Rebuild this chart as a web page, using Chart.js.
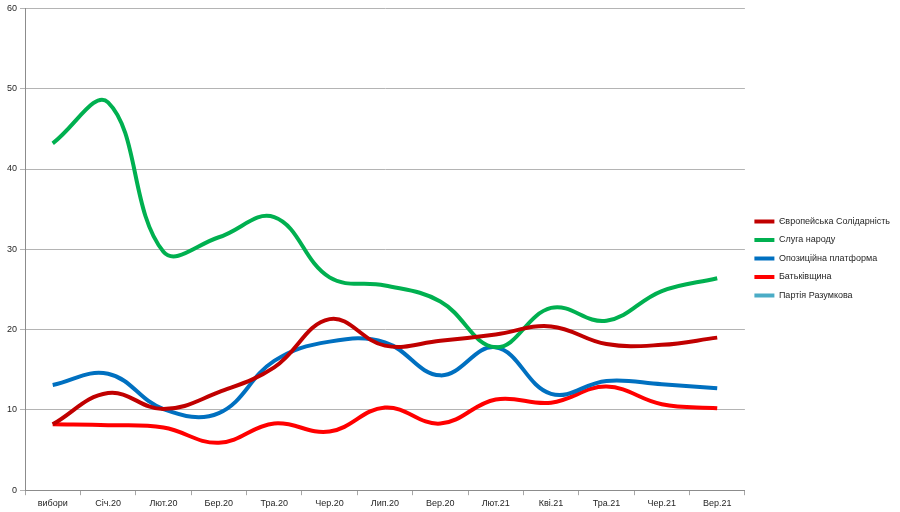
<!DOCTYPE html>
<html>
<head>
<meta charset="utf-8">
<script src="https://cdn.jsdelivr.net/npm/chart.js@4/dist/chart.umd.min.js"></script>
<style>
html,body{margin:0;padding:0;background:#fff;}
#wrap{width:900px;height:512px;position:relative;}
</style>
</head>
<body>
<div id="wrap"><canvas id="c" width="900" height="512"></canvas></div>
<script>
const categories = ["вибори","Січ.20","Лют.20","Бер.20","Тра.20","Чер.20","Лип.20","Вер.20","Лют.21","Кві.21","Тра.21","Чер.21","Вер.21"];
const yTicks = [0,10,20,30,40,50,60];
const seriesNames = ["Європейська Солідарність","Слуга народу","Опозиційна платформа","Батьківщина","Партія Разумкова"];
const es      = [8.2, 12.1, 10.1, 12.2, 15.3, 21.3, 18.0, 18.6, 19.4, 20.4, 18.2, 18.1, 19.0];
const sluha   = [43.2, 48.3, 29.7, 31.5, 34.0, 26.5, 25.5, 23.5, 17.8, 22.7, 21.1, 24.8, 26.4];
const opzzh   = [13.1, 14.5, 10.1, 9.6, 16.1, 18.5, 18.4, 14.3, 17.8, 12.0, 13.6, 13.2, 12.7];
const batk    = [8.2, 8.1, 7.8, 5.9, 8.3, 7.3, 10.3, 8.3, 11.3, 10.9, 12.9, 10.7, 10.2];
const razumkov = [null,null,null,null,null,null,null,null,null,null,null,null,null];

const colors = ["#c00000","#00b050","#0070c0","#ff0000","#4bacc6"];
const values = [es, sluha, opzzh, batk, razumkov];

const FONT = "'Liberation Sans', Arial, sans-serif";

new Chart(document.getElementById('c'), {
  type: 'line',
  data: {
    labels: categories,
    datasets: seriesNames.map((n,i)=>({
      label: n,
      data: values[i],
      borderColor: colors[i],
      backgroundColor: colors[i],
      borderWidth: 4,
      pointRadius: 0,
      pointHoverRadius: 0,
      tension: 0.4,
      fill: false,
      spanGaps: false
    }))
  },
  options: {
    responsive: false,
    animation: false,
    events: [],
    layout: { padding: { left: 4, top: 5, right: 0, bottom: 0 } },
    plugins: {
      tooltip: { enabled: false },
      legend: {
        position: 'right',
        align: 'center',
        labels: {
          font: { family: FONT, size: 9 },
          color: '#262626',
          boxWidth: 20,
          boxHeight: 4,
          padding: 9.5,
          generateLabels: (chart) => chart.data.datasets.map((d,i)=>({
            text: d.label,
            fillStyle: d.borderColor,
            strokeStyle: d.borderColor,
            lineWidth: 0,
            hidden: false,
            datasetIndex: i,
            fontColor: '#262626'
          }))
        }
      }
    },
    scales: {
      x: {
        offset: true,
        grid: {
          offset: true,
          drawOnChartArea: false,
          drawTicks: true,
          tickLength: 5,
          color: '#a6a6a6'
        },
        border: { color: '#8c8c8c', width: 1 },
        ticks: {
          font: { family: FONT, size: 9 },
          color: '#262626',
          maxRotation: 0,
          autoSkip: false,
          padding: 3
        }
      },
      y: {
        min: 0,
        max: 60,
        afterBuildTicks: (axis) => { axis.ticks = yTicks.map(v=>({value:v})); },
        grid: {
          color: '#b4b4b4',
          drawTicks: true,
          tickLength: 5
        },
        border: { color: '#8c8c8c', width: 1 },
        ticks: {
          font: { family: FONT, size: 9 },
          color: '#262626',
          padding: 3
        }
      }
    }
  }
});
</script>
</body>
</html>
